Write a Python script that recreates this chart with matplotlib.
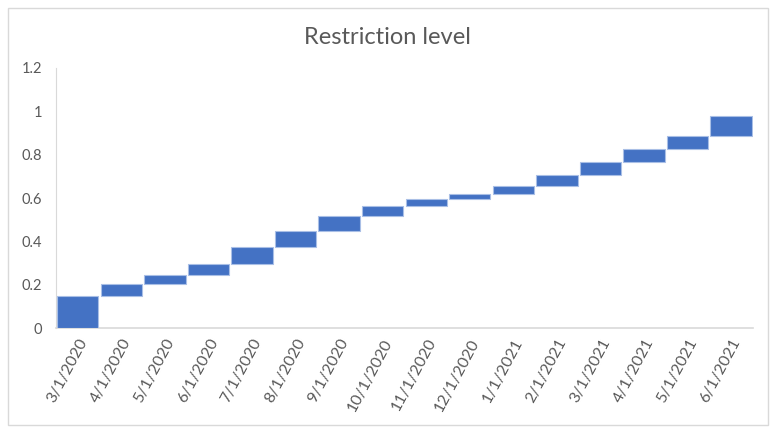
import matplotlib.pyplot as plt
import numpy as np
from matplotlib.patches import Rectangle

# data: cumulative restriction level at the end of each month (waterfall)
months = ["3/1/2020", "4/1/2020", "5/1/2020", "6/1/2020", "7/1/2020", "8/1/2020",
          "9/1/2020", "10/1/2020", "11/1/2020", "12/1/2020", "1/1/2021", "2/1/2021",
          "3/1/2021", "4/1/2021", "5/1/2021", "6/1/2021"]
levels = [0.150, 0.203, 0.244, 0.297, 0.376, 0.450, 0.519, 0.564,
          0.594, 0.620, 0.655, 0.704, 0.766, 0.826, 0.887, 0.980]

bottoms = [0.0] + levels[:-1]
heights = [t - b for t, b in zip(levels, bottoms)]

plt.rcParams['font.family'] = ['Lato', 'DejaVu Sans']
grey = '#595959'

fig = plt.figure(figsize=(7.76, 4.37), dpi=100)
ax = fig.add_axes([0.0722, 0.2494, 0.8980, 0.5950])

x = np.arange(len(months))
ax.bar(x, heights, bottom=bottoms, width=0.95, color='#4472C4',
       edgecolor='#a9bfe6', linewidth=0.8, zorder=3)

ax.set_xlim(-0.5, len(months) - 0.5)
ax.set_ylim(0, 1.2)
ax.set_yticks([0, 0.2, 0.4, 0.6, 0.8, 1.0, 1.2])
ax.set_yticklabels(['0', '0.2', '0.4', '0.6', '0.8', '1', '1.2'])
ax.set_xticks(x)
ax.set_xticklabels(months, rotation=62, ha='right', rotation_mode='anchor')
ax.tick_params(axis='both', length=0, colors=grey)
ax.tick_params(axis='y', pad=10, labelsize=10.5)
ax.tick_params(axis='x', pad=6, labelsize=11.5)

for s in ['top', 'right']:
    ax.spines[s].set_visible(False)
ax.spines['left'].set_color('#d9d9d9')
ax.spines['bottom'].set_color('#d9d9d9')
ax.spines['bottom'].set_linewidth(1.2)

fig.text(0.499, 0.915, 'Restriction level', ha='center', va='center',
         fontsize=17, color=grey)

# chart border like the spreadsheet frame
fig.patches.append(Rectangle((8 / 776, 12 / 437), 760 / 776, 417 / 437,
                             transform=fig.transFigure, fill=False,
                             edgecolor='#d9d9d9', linewidth=1))

fig.savefig('out.png', dpi=100)
